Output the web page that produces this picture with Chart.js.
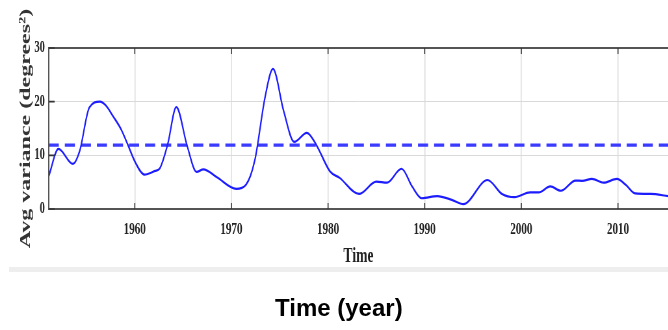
<!DOCTYPE html>
<html>
<head>
<meta charset="utf-8">
<script src="https://cdn.jsdelivr.net/npm/chart.js@4"></script>
<style>
  body { margin: 0; background: #fff; width: 668px; height: 330px; overflow: hidden; position: relative; }
  #wrap { position: absolute; left: 0; top: 0; width: 1028px; height: 330px; transform: scaleX(0.65); transform-origin: 0 0; }
  #band { position: absolute; left: 9px; top: 267px; width: 659px; height: 5px; background: #eeeeee; }
  #caption { position: absolute; left: 275px; top: 294px; font: bold 24px "Liberation Sans", Arial, sans-serif; line-height: 28px; color: #000; white-space: nowrap; }
</style>
</head>
<body>
<div id="wrap"><canvas id="grafico" width="1028" height="330"></canvas></div>
<div id="band"></div>
<div id="caption">Time (year)</div>
<script>
// valores
const anos = [1951.1, 1952.1, 1953.6, 1954.3, 1955.3, 1956.4, 1957.0, 1957.75, 1958.6, 1959.3,
  1960.0, 1961.0, 1962.1, 1962.6, 1963.4, 1964.3, 1965.4, 1966.4, 1967.1, 1968.5,
  1970.5, 1971.5, 1972.4, 1973.5, 1974.3, 1975.4, 1976.5, 1977.8, 1978.8, 1980.2,
  1981.2, 1983.2, 1985.0, 1986.1, 1987.6, 1988.7, 1989.7, 1991.3, 1992.8, 1994.0,
  1996.5, 1998.0, 1999.3, 2000.9, 2001.8, 2003.0, 2004.1, 2005.6, 2006.3, 2007.3,
  2008.5, 2009.9, 2010.8, 2011.8, 2013.4, 2015.2];
const variancia = [6.1, 11.2, 8.4, 10.8, 18.9, 20.0, 19.3, 17.3, 14.8, 11.9,
  8.9, 6.4, 7.1, 7.6, 12.0, 19.0, 11.9, 6.9, 7.4, 5.9,
  3.75, 4.5, 8.9, 21.0, 26.1, 18.3, 12.5, 14.2, 11.9, 7.0,
  5.8, 2.8, 5.1, 4.9, 7.5, 4.2, 2.0, 2.4, 1.7, 0.9,
  5.4, 2.8, 2.2, 3.1, 3.1, 4.2, 3.4, 5.3, 5.25, 5.6,
  4.9, 5.6, 4.5, 2.9, 2.8, 2.4];
const mediaAnos = [1951.1, 2015.2];
const media = [11.9, 11.9];
const ticksX = [1960, 1970, 1980, 1990, 2000, 2010];
const ticksY = [0, 10, 20, 30];

const serif = '"Liberation Serif", "Times New Roman", serif';

// moldura e marcas internas estilo MATLAB (lado direito cortado na figura)
const moldura = {
  id: 'moldura',
  afterDraw(chart) {
    const { ctx, chartArea: a, scales: { x, y } } = chart;
    ctx.save();
    ctx.strokeStyle = '#555';
    ctx.lineWidth = 2;
    ctx.beginPath();
    ctx.moveTo(a.right, a.top); ctx.lineTo(a.left, a.top);
    ctx.lineTo(a.left, a.bottom); ctx.lineTo(a.right, a.bottom);
    ctx.stroke();
    ctx.lineWidth = 1.6;
    ctx.strokeStyle = '#333';
    ctx.beginPath();
    ticksX.forEach(v => {
      const px = x.getPixelForValue(v);
      ctx.moveTo(px, a.bottom); ctx.lineTo(px, a.bottom - 6);
      ctx.moveTo(px, a.top); ctx.lineTo(px, a.top + 6);
    });
    ticksY.forEach(v => {
      const py = y.getPixelForValue(v);
      ctx.moveTo(a.left, py); ctx.lineTo(a.left + 9, py);
    });
    ctx.stroke();
    ctx.restore();
  }
};

new Chart(document.getElementById('grafico'), {
  type: 'line',
  data: {
    datasets: [
      {
        data: anos.map((a, i) => ({ x: a, y: variancia[i] })),
        borderColor: '#1c1cff',
        borderWidth: 2.2,
        pointRadius: 0,
        cubicInterpolationMode: 'monotone',
        fill: false
      },
      {
        data: mediaAnos.map((a, i) => ({ x: a, y: media[i] })),
        borderColor: '#3b3bff',
        borderWidth: 3.2,
        borderDash: [15.5, 9.2],
        pointRadius: 0,
        fill: false
      }
    ]
  },
  options: {
    responsive: false,
    animation: false,
    devicePixelRatio: 1,
    layout: { padding: { top: 48, right: 0, bottom: 55, left: 0 } },
    plugins: { legend: { display: false }, tooltip: { enabled: false } },
    scales: {
      x: {
        type: 'linear',
        min: 1951.1,
        max: 2015.2,
        afterBuildTicks: s => { s.ticks = ticksX.map(v => ({ value: v })); },
        afterFit: s => { s.height = 66; },
        border: { display: false },
        grid: { color: '#d9d9d9', lineWidth: 1.5, drawTicks: false },
        ticks: {
          padding: 10,
          maxRotation: 0,
          autoSkip: false,
          color: '#222',
          font: { family: serif, size: 17, weight: 'bold' },
          callback: v => String(v)
        },
        title: {
          display: true,
          text: 'Time',
          color: '#222',
          padding: { top: 0, bottom: 6 },
          font: { family: serif, size: 21, weight: 'bold' }
        }
      },
      y: {
        min: 0,
        max: 30,
        afterBuildTicks: s => { s.ticks = ticksY.map(v => ({ value: v })); },
        afterFit: s => { s.width = 75; },
        border: { display: false },
        grid: { color: '#d9d9d9', lineWidth: 1, drawTicks: false },
        ticks: {
          padding: 6,
          color: '#222',
          font: { family: serif, size: 16, weight: 'bold' }
        },
        title: {
          display: true,
          text: 'Avg variance (degrees²)',
          color: '#333',
          padding: { top: 25, bottom: 0 },
          font: { family: serif, size: 24, weight: 'bold' }
        }
      }
    }
  },
  plugins: [moldura]
});
</script>
</body>
</html>
